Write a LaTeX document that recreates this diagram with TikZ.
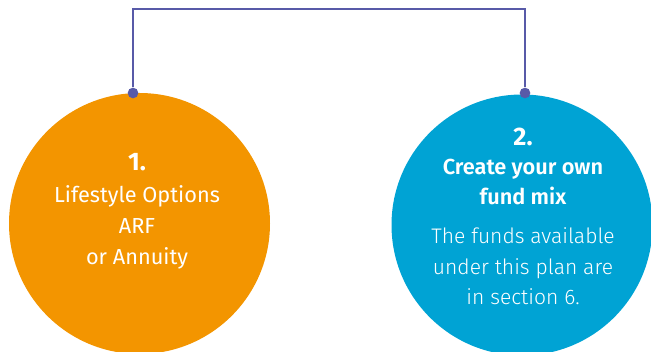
\documentclass[tikz,border=0pt]{standalone}
\usepackage{fontspec}
\setmainfont{Fira Sans}
\newfontfamily\lightfont{Fira Sans Light}
\newfontfamily\semifont{Fira Sans SemiBold}
\usepackage{xcolor}
\usepackage{tikz}

\definecolor{optorange}{RGB}{243,149,0}
\definecolor{optblue}{RGB}{0,163,212}
\definecolor{linkpurple}{RGB}{88,90,168}

\tikzset{
  optcircle/.style={circle, inner sep=0pt, minimum size=261*0.75pt},
  optdot/.style={circle, fill=linkpurple, inner sep=0pt, minimum size=8pt},
  optlabel/.style={text=white, align=center, font=\fontsize{16.3}{23}\selectfont},
}

\begin{document}
\begin{tikzpicture}
[x=0.75pt,y=0.75pt,yscale=-1,xscale=1]
\useasboundingbox (0,0) rectangle (651,352);
\clip (0,0) rectangle (651,352);

% the two options
\node [optcircle, fill=optorange] (opt1) at (139.5,223.5) {};
\node [optcircle, fill=optblue] (opt2) at (522,225) {};

% link between them
\coordinate (bend1) at (133,9);
\coordinate (bend2) at (525,9);
\node [optdot] (dot1) at (133,93) {};
\node [optdot] (dot2) at (525,93) {};
\draw [linkpurple, line width=0.9pt] (dot1) -- (bend1) -- (bend2) -- (dot2);

% texts
\draw (137,162) node [optlabel, font=\fontsize{19}{22}\bfseries] (num1) {1.};
\draw (137,227.5) node [optlabel] (txt1) {Lifestyle Options\\ARF\\or Annuity};
\draw (523,137) node [optlabel, font=\fontsize{19}{22}\bfseries] (num2) {2.};
\draw (523,182) node [optlabel, font=\fontsize{16.3}{22.5}\semifont] (head2) {Create your own\\fund mix};
\draw (523,266.5) node [optlabel, font=\fontsize{15.8}{22.8}\lightfont] (txt2) {The funds available\\under this plan are\\in section 6.};

\end{tikzpicture}
\end{document}
